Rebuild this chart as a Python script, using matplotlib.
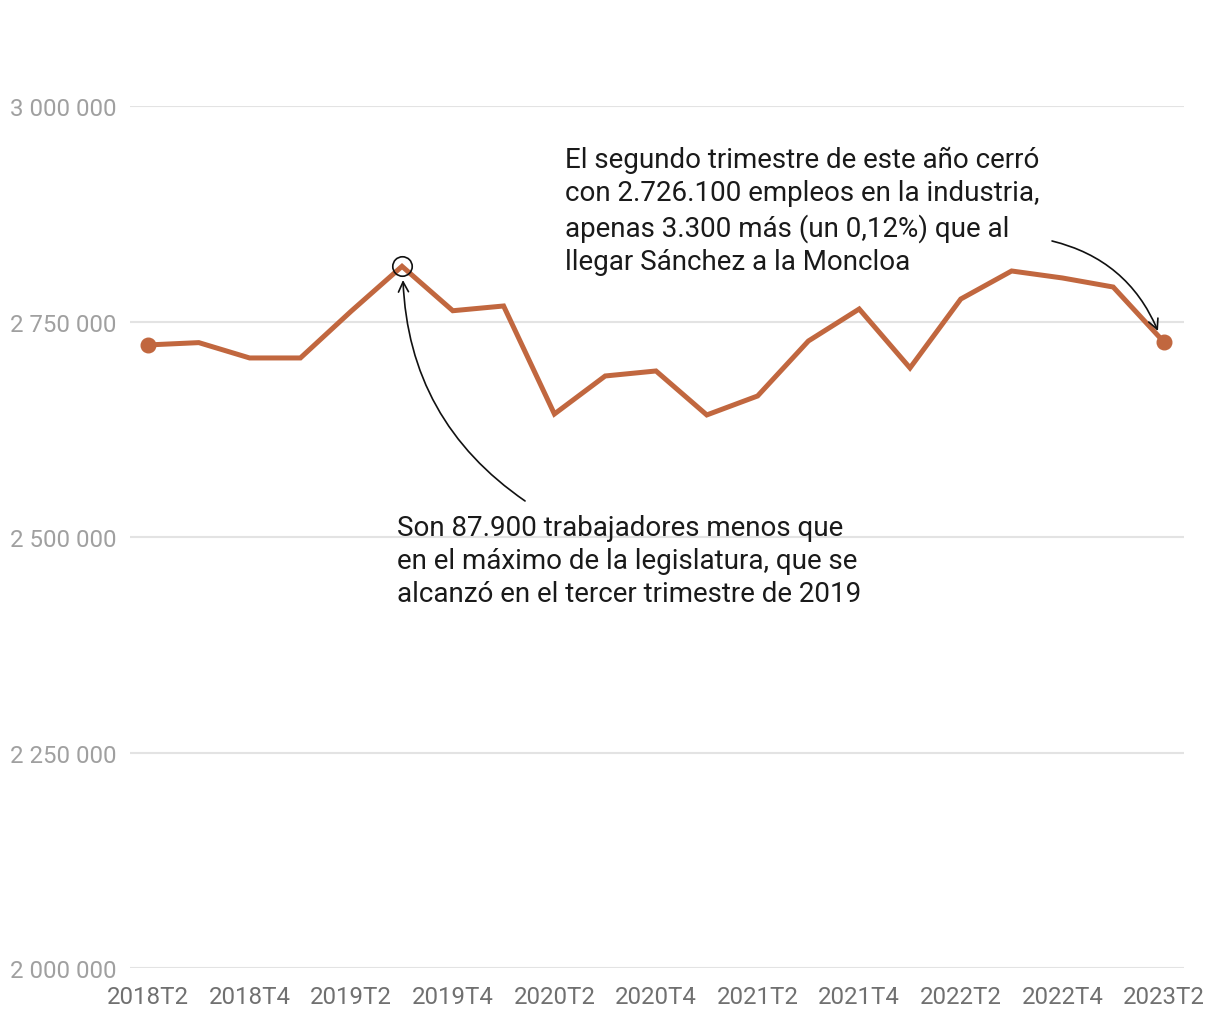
import matplotlib
matplotlib.use("Agg")
import matplotlib.pyplot as plt

quarters = ["2018T2", "2018T3", "2018T4", "2019T1", "2019T2", "2019T3", "2019T4",
            "2020T1", "2020T2", "2020T3", "2020T4", "2021T1", "2021T2", "2021T3",
            "2021T4", "2022T1", "2022T2", "2022T3", "2022T4", "2023T1", "2023T2"]
empleo = [2722800, 2725500, 2707700, 2707700, 2762000, 2814000, 2762500,
          2768000, 2642700, 2686800, 2692600, 2641600, 2663600, 2727400,
          2764500, 2696100, 2776100, 2808600, 2800500, 2790000, 2726100]
y_ticks = [2000000, 2250000, 2500000, 2750000, 3000000]
y_tick_labels = ["2 000 000", "2 250 000", "2 500 000", "2 750 000", "3 000 000"]
peak_index = 5

note_peak = ("Son 87.900 trabajadores menos que\n"
             "en el máximo de la legislatura, que se\n"
             "alcanzó en el tercer trimestre de 2019")
note_last = ("El segundo trimestre de este año cerró\n"
             "con 2.726.100 empleos en la industria,\n"
             "apenas 3.300 más (un 0,12%) que al\n"
             "llegar Sánchez a la Moncloa")

plt.rcParams['font.family'] = ['Roboto', 'DejaVu Sans']

LINE = "#C1673F"
fig = plt.figure(figsize=(12.2, 10.2), dpi=100)
ax = fig.add_axes([130/1220, 51/1020, 1054/1220, 862/1020])

x = list(range(len(quarters)))
ax.plot(x, empleo, color=LINE, lw=3.6, solid_joinstyle='miter', zorder=3, clip_on=False)
ax.plot([x[0], x[-1]], [empleo[0], empleo[-1]], 'o', color=LINE, ms=10.5, zorder=4, clip_on=False)
ax.plot([x[peak_index]], [empleo[peak_index]], 'o', mfc='none', mec='#111111', mew=1.2,
        ms=14, zorder=5, clip_on=False)

ax.set_xlim(-18/50.8, 20 + 20/50.8)
ax.set_ylim(2000000, 3000000)
ax.set_yticks(y_ticks)
ax.set_yticklabels(y_tick_labels)
ax.set_xticks(x[::2])
ax.set_xticklabels(quarters[::2])
ax.grid(axis='y', color='#e3e3e3', lw=1.5, zorder=0)
ax.grid(axis='x', visible=False)
for s in ax.spines.values():
    s.set_visible(False)
ax.tick_params(axis='y', length=0, pad=10, labelsize=17.3, labelcolor='#a0a0a0')
ax.tick_params(axis='x', length=0, pad=12, labelsize=17.3, labelcolor='#707070')

ax.text(0.2533, 0.4727, note_peak, transform=ax.transAxes, ha='left', va='center',
        fontsize=20, color='#1a1a1a', linespacing=1.3, zorder=6)
ax.text(0.4127, 0.8788, note_last, transform=ax.transAxes, ha='left', va='center',
        fontsize=20, color='#1a1a1a', linespacing=1.3, zorder=6)

ax.annotate("", xy=(0.259, 0.7981), xytext=(0.3748, 0.5418),
            xycoords='axes fraction', textcoords='axes fraction',
            arrowprops=dict(arrowstyle='->', color='#111111', lw=1.2,
                            connectionstyle='arc3,rad=-0.25', mutation_scale=18,
                            shrinkA=0, shrinkB=0), zorder=6)
ax.annotate("", xy=(0.9753, 0.7390), xytext=(0.8748, 0.8434),
            xycoords='axes fraction', textcoords='axes fraction',
            arrowprops=dict(arrowstyle='->', color='#111111', lw=1.2,
                            connectionstyle='arc3,rad=-0.25', mutation_scale=18,
                            shrinkA=0, shrinkB=0), zorder=6)

fig.savefig("out.png", dpi=100, facecolor='white')
